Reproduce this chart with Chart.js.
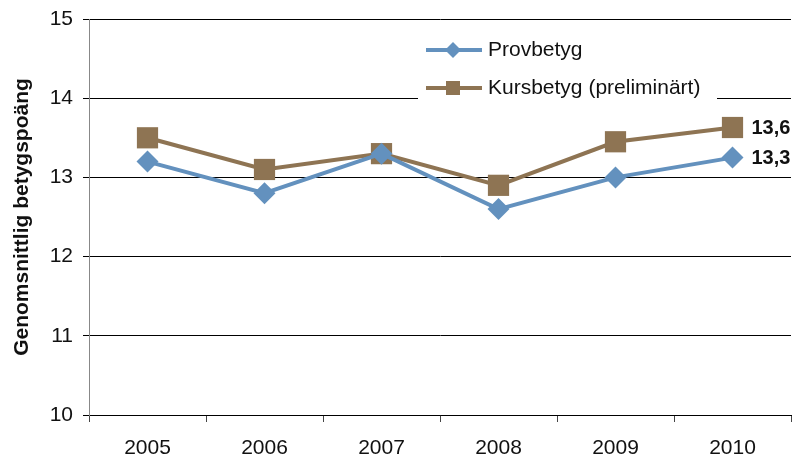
<!DOCTYPE html>
<html>
<head>
<meta charset="utf-8">
<script src="https://cdn.jsdelivr.net/npm/chart.js@4.4.0/dist/chart.umd.min.js"></script>
<style>
  html, body { margin: 0; padding: 0; background: #fff; }
  #wrap { width: 795px; height: 459px; position: relative; }
</style>
</head>
<body>
<div id="wrap"><canvas id="myChart" width="795" height="459"></canvas></div>
<script>
// data
const years = ['2005', '2006', '2007', '2008', '2009', '2010'];
const provbetyg = [13.2, 12.8, 13.3, 12.6, 13.0, 13.25];
const kursbetyg = [13.5, 13.1, 13.3, 12.9, 13.45, 13.63];
const endLabels = ['13,3', '13,6'];
const yTitle = 'Genomsnittlig betygspoäng';

const blue = '#6391be';
const brown = '#8e7453';
const font = 'Arial, "Liberation Sans", sans-serif';

// legend box sitting inside the plot, white behind it
const insideLegend = {
    id: 'insideLegend',
    afterDatasetsDraw(chart) {
        const ctx = chart.ctx;
        ctx.save();
        ctx.fillStyle = '#fff';
        ctx.fillRect(418, 30, 299, 76);
        chart.data.datasets.forEach((ds, i) => {
            const y = 50 + i * 38;
            ctx.strokeStyle = ds.borderColor;
            ctx.lineWidth = 4;
            ctx.beginPath();
            ctx.moveTo(426, y);
            ctx.lineTo(482, y);
            ctx.stroke();
            ctx.fillStyle = ds.backgroundColor;
            if (ds.pointStyle === 'rectRot') {
                ctx.beginPath();
                ctx.moveTo(453, y - 8);
                ctx.lineTo(461, y);
                ctx.lineTo(453, y + 8);
                ctx.lineTo(445, y);
                ctx.closePath();
                ctx.fill();
            } else {
                ctx.fillRect(446, y - 7, 14, 14);
            }
            ctx.fillStyle = '#111';
            ctx.font = '21px ' + font;
            ctx.textBaseline = 'middle';
            ctx.textAlign = 'left';
            ctx.fillText(ds.label, 488, y);
        });
        ctx.restore();
    }
};

// bold value at the last point of each line
const lastValues = {
    id: 'lastValues',
    afterDatasetsDraw(chart) {
        const ctx = chart.ctx;
        ctx.save();
        ctx.font = 'bold 20px ' + font;
        ctx.fillStyle = '#111';
        ctx.textBaseline = 'middle';
        ctx.textAlign = 'left';
        chart.data.datasets.forEach((ds, i) => {
            const meta = chart.getDatasetMeta(i);
            const pt = meta.data[meta.data.length - 1];
            ctx.fillText(endLabels[i], pt.x + 19, pt.y + 1);
        });
        ctx.restore();
    }
};

const ctx = document.getElementById('myChart').getContext('2d');
new Chart(ctx, {
    type: 'line',
    data: {
        labels: years,
        datasets: [{
            label: 'Provbetyg',
            data: provbetyg,
            borderColor: blue,
            backgroundColor: blue,
            borderWidth: 4,
            pointStyle: 'rectRot',
            pointRadius: 11,
            pointBorderWidth: 0,
            tension: 0
        }, {
            label: 'Kursbetyg (preliminärt)',
            data: kursbetyg,
            borderColor: brown,
            backgroundColor: brown,
            borderWidth: 4,
            pointStyle: 'rect',
            pointRadius: 15,
            pointBorderWidth: 0,
            tension: 0
        }]
    },
    options: {
        responsive: false,
        animation: false,
        layout: { autoPadding: false, padding: { top: 19, right: 4, left: 0, bottom: 0 } },
        plugins: {
            legend: { display: false },
            tooltip: { enabled: false }
        },
        scales: {
            x: {
                offset: true,
                grid: {
                    offset: true,
                    drawOnChartArea: false,
                    drawTicks: true,
                    tickLength: 7,
                    color: '#444'
                },
                border: { color: '#000', width: 1 },
                ticks: { color: '#111', font: { family: font, size: 21 }, padding: 14 },
                afterFit(scale) {
                    scale.height = 44;
                    scale.paddingLeft = 0;
                    scale.paddingRight = 0;
                }
            },
            y: {
                min: 10,
                max: 15,
                grid: {
                    color: '#000',
                    tickLength: 6,
                    drawTicks: true
                },
                border: { color: '#888', width: 1 },
                ticks: { stepSize: 1, color: '#111', font: { family: font, size: 21 }, padding: 10 },
                title: {
                    display: true,
                    text: yTitle,
                    color: '#111',
                    font: { family: font, size: 21, weight: 'bold' },
                    padding: { top: 10, bottom: 2 }
                },
                afterFit(scale) {
                    scale.width = 89;
                    scale.paddingTop = 0;
                    scale.paddingBottom = 0;
                }
            }
        }
    },
    plugins: [insideLegend, lastValues]
});
</script>
</body>
</html>
